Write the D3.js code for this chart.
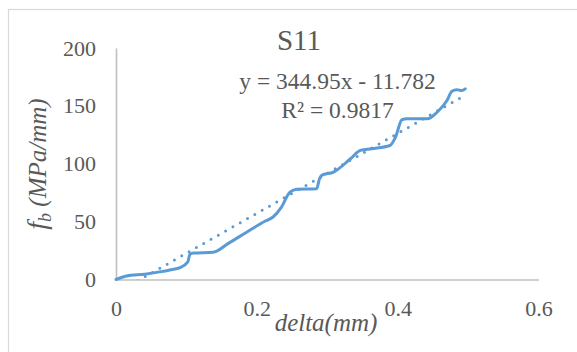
<!DOCTYPE html>
<html lang="en">
<head>
  <meta charset="UTF-8">
  <title>S11</title>
  <script src="https://d3js.org/d3.v7.min.js"></script>
  <style>
    body { margin: 0; background: #fff; }
  </style>
</head>
<body>
  <svg id="chart" width="577" height="352"></svg>
  <script>
    // measured curve (delta in mm, fb in MPa/mm)
    const deltaValues = [0, 0.015, 0.041, 0.062, 0.078, 0.091, 0.102, 0.105, 0.11, 0.138, 0.159, 0.186,
      0.212, 0.223, 0.235, 0.247, 0.257, 0.285, 0.289, 0.292, 0.309, 0.333, 0.347, 0.363, 0.389,
      0.397, 0.406, 0.413, 0.442, 0.456, 0.47, 0.477, 0.484, 0.491, 0.496];
    const fbValues = [0, 3.0, 4.6, 6.6, 8.5, 10.3, 15.2, 21.8, 22.9, 23.5, 31, 41,
      50.5, 54, 62.6, 75.5, 78, 78.5, 87, 90, 92.8, 104.3, 111.5, 113, 115.8,
      123, 138, 138.8, 138.8, 144.5, 154.6, 162.6, 164, 163.2, 164.7];

    // linear trendline from the chart label
    const trendSlope = 344.95;
    const trendIntercept = -11.782;
    const trendLabels = ["y = 344.95x - 11.782", "R² = 0.9817"];

    const xTicks = [0, 0.2, 0.4, 0.6];
    const yTicks = [0, 50, 100, 150, 200];
    const chartTitle = "S11";

    const data = deltaValues.map((d, i) => ({ x: d, y: fbValues[i] }));

    const serif = "'Liberation Serif', 'Times New Roman', serif";
    const textColor = "#595959";
    const plot = { left: 116, right: 538.5, top: 48, bottom: 279.5 };
    const svg = d3.select("#chart");

    // outer chart border
    svg.append("rect")
      .attr("x", 8.5).attr("y", 9.5)
      .attr("width", 640).attr("height", 400)
      .attr("fill", "#fff")
      .attr("stroke", "#d9d9d9")
      .attr("stroke-width", 1.2);

    const x = d3.scaleLinear().domain([0, 0.6]).range([plot.left, plot.right]);
    const y = d3.scaleLinear().domain([0, 200]).range([plot.bottom, plot.top]);

    const xAxis = svg.append("g")
      .attr("transform", `translate(0,${plot.bottom})`)
      .call(d3.axisBottom(x).tickValues(xTicks).tickSize(0).tickPadding(21).tickFormat(d3.format("")));
    const yAxis = svg.append("g")
      .attr("transform", `translate(${plot.left},0)`)
      .call(d3.axisLeft(y).tickValues(yTicks).tickSize(0).tickPadding(20));

    [xAxis, yAxis].forEach(a => {
      a.select(".domain").attr("stroke", "#bfbfbf").attr("stroke-width", 1.6);
      a.selectAll("text")
        .style("font-family", serif)
        .style("font-size", "22px")
        .style("fill", textColor);
    });

    svg.append("clipPath").attr("id", "plotClip")
      .append("rect")
      .attr("x", plot.left).attr("y", plot.top)
      .attr("width", plot.right - plot.left).attr("height", plot.bottom - plot.top);

    // measured line
    svg.append("path")
      .datum(data)
      .attr("fill", "none")
      .attr("stroke", "#5b9bd5")
      .attr("stroke-width", 3)
      .attr("stroke-linejoin", "round")
      .attr("stroke-linecap", "round")
      .attr("d", d3.line().x(d => x(d.x)).y(d => y(d.y)).curve(d3.curveMonotoneX));

    // dotted trendline
    const xMax = d3.max(deltaValues);
    const trendData = [0, xMax].map(v => ({ x: v, y: trendSlope * v + trendIntercept }));
    svg.append("path")
      .datum(trendData)
      .attr("clip-path", "url(#plotClip)")
      .attr("fill", "none")
      .attr("stroke", "#5b9bd5")
      .attr("stroke-width", 3)
      .attr("stroke-linecap", "round")
      .attr("stroke-dasharray", "0 8.4")
      .attr("d", d3.line().x(d => x(d.x)).y(d => y(d.y)));

    function label(px, py, size, str) {
      return svg.append("text")
        .attr("x", px).attr("y", py)
        .attr("text-anchor", "middle")
        .style("font-family", serif)
        .style("font-size", size + "px")
        .style("fill", textColor)
        .text(str);
    }

    // title
    label(299, 50, 29, chartTitle);

    // trendline label
    trendLabels.forEach((t, i) => label(337.5, 88.5 + i * 29.5, 23.5, t));

    // axis titles
    label(326, 331, 25, "delta(mm)").style("font-style", "italic");

    const yTitle = svg.append("text")
      .attr("transform", "translate(46,164) rotate(-90)")
      .attr("text-anchor", "middle")
      .style("font-family", serif)
      .style("font-size", "25px")
      .style("font-style", "italic")
      .style("fill", textColor);
    yTitle.append("tspan").style("font-size", "28px").text("f");
    yTitle.append("tspan").style("font-size", "18px").attr("dy", 5).text("b");
    yTitle.append("tspan").attr("dy", -5).text(" (MPa/mm)");
  </script>
</body>
</html>
